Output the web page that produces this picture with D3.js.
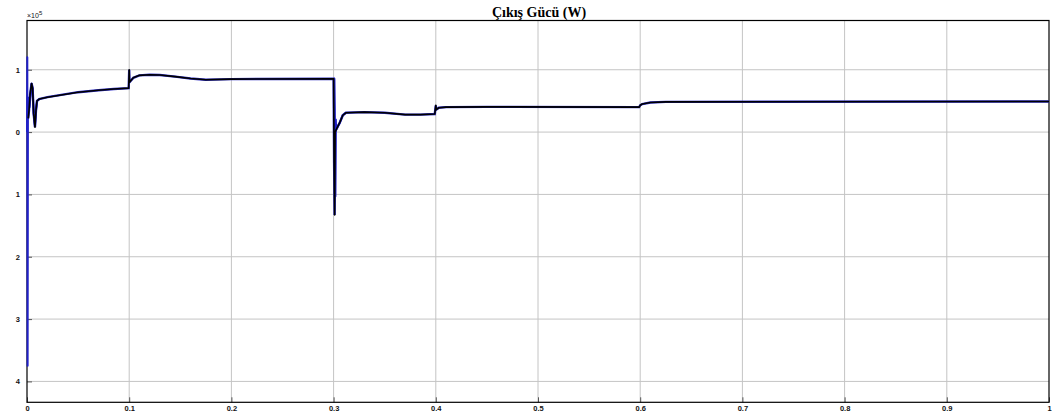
<!DOCTYPE html>
<html>
<head>
<meta charset="utf-8">
<script src="https://cdn.jsdelivr.net/npm/d3@7"></script>
<style>
  html, body { margin: 0; padding: 0; background: #fff; }
  svg { display: block; }
</style>
</head>
<body>
<svg id="chart" width="1052" height="417"></svg>
<script>
// ---- data (power in units of 1e5 W) ----
const titleText = "Çıkış Gücü (W)";
const xTicks = [0, 0.1, 0.2, 0.3, 0.4, 0.5, 0.6, 0.7, 0.8, 0.9, 1];
const xTickLabels = ["0", "0.1", "0.2", "0.3", "0.4", "0.5", "0.6", "0.7", "0.8", "0.9", "1"];
const yTicks = [1, 0, -1, -2, -3, -4];
const yTickLabels = ["1", "0", "1", "2", "3", "4"];

// blue trace, start-up transient
const blueStartT = [0, 0.0003, 0.0006, 0.0009, 0.0015, 0.0025, 0.0035, 0.0045, 0.0055, 0.0065, 0.0078, 0.0088, 0.0098, 0.012];
const blueStartV = [0, 1.2, -3.75, 0.2, 0.55, 0.4, 0.6, 0.78, 0.7, 0.3, 0.1, 0.35, 0.5, 0.53];
// blue trace, transient at t = 0.3
const blueMidT = [0.3, 0.3008, 0.3012, 0.3018, 0.3022, 0.3025, 0.306, 0.309, 0.312];
const blueMidV = [0.855, 0.855, 0.37, -1.03, 0.2, 0.04, 0.15, 0.27, 0.31];

// black trace
const blackT = [0.0012, 0.002, 0.003, 0.0045, 0.0055, 0.0065, 0.0078, 0.0088, 0.0098, 0.012, 0.02, 0.035, 0.05, 0.07, 0.085, 0.0995,
  0.1, 0.1003, 0.104, 0.11, 0.12, 0.13, 0.145, 0.16, 0.175, 0.19, 0.2, 0.3,
  0.3005, 0.301, 0.3015, 0.3025, 0.306, 0.309, 0.312, 0.33, 0.35, 0.37, 0.385, 0.399,
  0.4, 0.4005, 0.403, 0.41, 0.45, 0.599, 0.6, 0.602, 0.61, 0.625, 1];
const blackV = [0.22, 0.35, 0.6, 0.78, 0.7, 0.3, 0.08, 0.35, 0.5, 0.53, 0.56, 0.6, 0.64, 0.67, 0.69, 0.705,
  1.0, 0.8, 0.87, 0.91, 0.92, 0.915, 0.89, 0.86, 0.84, 0.845, 0.85, 0.855,
  -0.5, -1.33, 0.0, 0.04, 0.15, 0.27, 0.31, 0.32, 0.31, 0.28, 0.28, 0.29,
  0.43, 0.36, 0.39, 0.4, 0.405, 0.4, 0.43, 0.45, 0.475, 0.485, 0.49];

// ---- layout ----
const svg = d3.select("#chart");
const L = 27, R = 1049, T = 20.5, B = 402.3;

const x = d3.scaleLinear().domain([0, 1]).range([L, R]);
const y = d3.scaleLinear().domain([-4.335, 1.79]).range([B, T]);

// grid
const g = svg.append("g");
g.selectAll("line.vx").data(xTicks.slice(1, -1)).join("line")
  .attr("x1", d => x(d)).attr("x2", d => x(d)).attr("y1", T).attr("y2", B)
  .attr("stroke", "#c4c4c4").attr("stroke-width", 1);
g.selectAll("line.hy").data(yTicks).join("line")
  .attr("x1", L).attr("x2", R).attr("y1", d => y(d)).attr("y2", d => y(d))
  .attr("stroke", "#c4c4c4").attr("stroke-width", 1);

// axes (inward ticks)
const xAxis = d3.axisBottom(x).tickValues(xTicks).tickSize(-5).tickPadding(3)
  .tickFormat((d, i) => xTickLabels[i]);
const yAxis = d3.axisLeft(y).tickValues(yTicks).tickSize(-5).tickPadding(7)
  .tickFormat((d, i) => yTickLabels[i]);

const gx = svg.append("g").attr("transform", `translate(0,${B})`).call(xAxis);
const gy = svg.append("g").attr("transform", `translate(${L},0)`).call(yAxis);
[gx, gy].forEach(a => {
  a.select(".domain").remove();
  a.selectAll(".tick line").attr("stroke", "#555").attr("stroke-width", 1);
  a.selectAll(".tick text").attr("font-family", "Liberation Sans, Arial, sans-serif")
    .attr("font-size", 7.5).attr("font-weight", "bold").attr("fill", "#111");
});

// frame
svg.append("rect").attr("x", L).attr("y", T).attr("width", R - L).attr("height", B - T)
  .attr("fill", "none").attr("stroke", "#000").attr("stroke-width", 1.2);

// traces
const line = d3.line().x(d => x(d[0])).y(d => y(d[1]));
const blackData = d3.zip(blackT, blackV);

svg.append("path").datum(blackData).attr("d", line)
  .attr("fill", "none").attr("stroke", "#2a2ac0").attr("stroke-width", 2.4);
[d3.zip(blueStartT, blueStartV), d3.zip(blueMidT, blueMidV)].forEach(seg => {
  svg.append("path").datum(seg).attr("d", line)
    .attr("fill", "none").attr("stroke", "#2020c8").attr("stroke-width", 2).attr("stroke-linejoin", "round");
});
svg.append("path").datum(blackData).attr("d", line)
  .attr("fill", "none").attr("stroke", "#000").attr("stroke-width", 1.6).attr("stroke-linejoin", "round");

// title
svg.append("text").attr("x", 539).attr("y", 17).attr("text-anchor", "middle")
  .attr("font-family", "Liberation Serif, Times New Roman, serif")
  .attr("font-size", 14).attr("font-weight", "bold").attr("fill", "#000")
  .text(titleText);

// exponent label
const ex = svg.append("text").attr("x", 27).attr("y", 18)
  .attr("font-family", "Liberation Sans, Arial, sans-serif").attr("font-size", 7).attr("fill", "#111");
ex.append("tspan").text("×10");
ex.append("tspan").attr("dy", -3).attr("font-size", 6).text("5");
</script>
</body>
</html>
